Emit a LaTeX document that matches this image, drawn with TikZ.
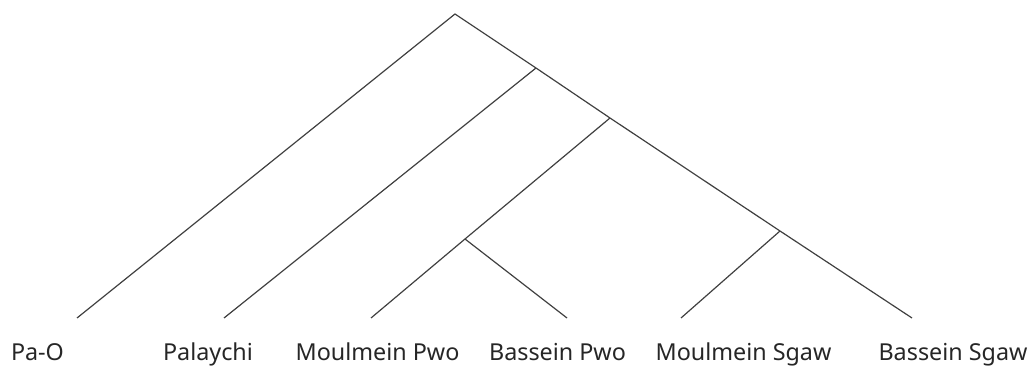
\documentclass[tikz,border=0pt]{standalone}
\usepackage{fontspec}
\setmainfont{Noto Sans}
\begin{document}
\begin{tikzpicture}[x=0.75pt,y=-0.75pt,
  edge/.style={draw=black!75,line width=0.9pt},
  lbl/.style={anchor=base,inner sep=0pt,text=black!85,font=\fontsize{17.5}{21}\selectfont}]
\useasboundingbox (0,0) rectangle (1034,366);
\coordinate (root) at (455,14);
\coordinate (a) at (536,68);
\coordinate (b) at (610,118);
\coordinate (c) at (465,239);
\coordinate (d) at (780,231);
\coordinate (l1) at (77,318);
\coordinate (l2) at (224,318);
\coordinate (l3) at (371,318);
\coordinate (l4) at (567,318);
\coordinate (l5) at (681,318);
\coordinate (l6) at (912,318);
\draw[edge] (l1) -- (root) -- (a) -- (b) -- (d) -- (l6);
\draw[edge] (a) -- (l2);
\draw[edge] (b) -- (c) -- (l3);
\draw[edge] (c) -- (l4);
\draw[edge] (d) -- (l5);
\node[lbl] (t1) at (37.5,360) {Pa-O};
\node[lbl] (t2) at (208,360) {Palaychi};
\node[lbl] (t3) at (377.5,360) {Moulmein Pwo};
\node[lbl] (t4) at (557.5,360) {Bassein Pwo};
\node[lbl] (t5) at (743.5,360) {Moulmein Sgaw};
\node[lbl] (t6) at (953,360) {Bassein Sgaw};
\end{tikzpicture}
\end{document}
